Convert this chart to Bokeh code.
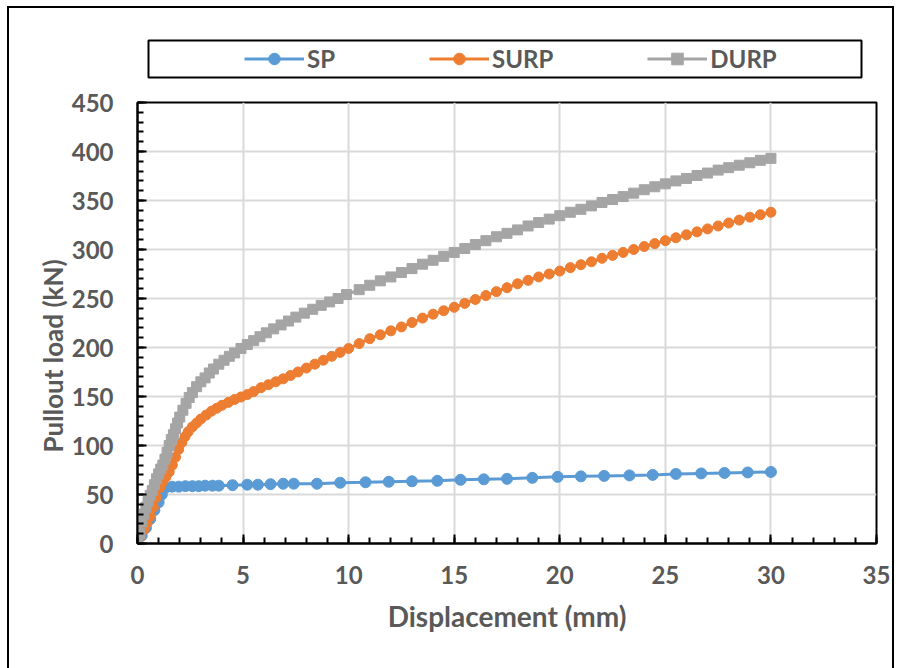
from bokeh.plotting import figure
from bokeh.layouts import column
from bokeh.models import Range1d, FixedTicker, Legend, LegendItem, Title
from bokeh.embed import file_html
from bokeh.resources import INLINE

# ---------------- data ----------------
sp_x = [0, 0.2, 0.4, 0.6, 0.8, 1.0, 1.15, 1.33, 1.64, 1.95, 2.27, 2.6, 2.9, 3.2,
        3.55, 3.85, 4.5, 5.2, 5.7, 6.3, 6.9, 7.4, 8.5, 9.6, 10.8, 11.9, 13.0,
        14.2, 15.3, 16.4, 17.5, 18.7, 19.9, 21.0, 22.1, 23.3, 24.4, 25.5, 26.7,
        27.8, 28.9, 30.0]
sp_y = [0, 8, 16, 25, 34, 42, 50, 57, 58, 58, 58.5, 58.5, 58.5, 59,
        59, 59, 59.5, 60, 60, 60.5, 61, 61, 61, 62, 62.5, 63, 63.5,
        64, 65, 65.5, 66, 67, 68, 68.5, 69, 69.5, 70, 71, 71.5,
        72, 72.5, 73]

surp_x = [0, 0.15, 0.3, 0.45, 0.6, 0.75, 0.9, 1.05, 1.2, 1.35, 1.5, 1.65, 1.8,
          1.95, 2.1, 2.25, 2.4, 2.6, 2.8, 3.0, 3.25, 3.5, 3.75, 4.0, 4.3, 4.6,
          4.9, 5.2, 5.5, 5.85, 6.2, 6.55, 6.9, 7.25, 7.6, 8.0, 8.4, 8.8, 9.2,
          9.6, 10.0, 10.5, 11.0, 11.5, 12.0, 12.5, 13.0, 13.5, 14.0, 14.5, 15.0,
          15.5, 16.0, 16.5, 17.0, 17.5, 18.0, 18.5, 19.0, 19.5, 20.0, 20.5,
          21.0, 21.5, 22.0, 22.5, 23.0, 23.5, 24.0, 24.5, 25.0, 25.5, 26.0,
          26.5, 27.0, 27.5, 28.0, 28.5, 29.0, 29.5, 30.0]
surp_y = [0, 7, 14, 21, 28, 37, 47, 57, 63, 68, 73, 80, 88,
          96, 103, 109, 114, 119, 123, 127, 131, 135, 138, 141, 144, 147,
          149.5, 152, 155, 159, 162, 165, 168, 171.5, 175, 179, 183, 187, 191,
          195, 199, 204, 209, 213, 217, 221, 225.5, 230, 234, 237.5, 241,
          245, 249, 253, 257, 261, 265, 268.5, 272, 275, 278, 281.5,
          284.5, 287.5, 291, 294, 297, 300, 303, 306, 309, 312, 315,
          318, 321, 324, 327, 330, 333, 335.5, 338]

durp_x = [0, 0.1, 0.2, 0.3, 0.4, 0.5, 0.6, 0.7, 0.8, 0.9, 1.0, 1.1, 1.2, 1.3,
          1.4, 1.5, 1.6, 1.7, 1.8, 1.9, 2.0, 2.15, 2.3, 2.45, 2.6, 2.8, 3.0,
          3.2, 3.4, 3.6, 3.85, 4.1, 4.35, 4.6, 4.9, 5.2, 5.5, 5.8, 6.1, 6.45,
          6.8, 7.15, 7.5, 7.9, 8.3, 8.7, 9.1, 9.5, 9.9, 10.5, 11.0, 11.5, 12.0,
          12.5, 13.0, 13.5, 14.0, 14.5, 15.0, 15.5, 16.0, 16.5, 17.0, 17.5,
          18.0, 18.5, 19.0, 19.5, 20.0, 20.5, 21.0, 21.5, 22.0, 22.5, 23.0,
          23.5, 24.0, 24.5, 25.0, 25.5, 26.0, 26.5, 27.0, 27.5, 28.0, 28.5,
          29.0, 29.5, 30.0]
durp_y = [0, 10, 22, 30, 37, 43, 49, 54, 60, 66, 71, 76, 80, 86,
          93, 100, 106, 111, 117, 123, 129, 136, 143, 149, 154, 160, 165,
          169, 174, 178, 183, 187, 191, 194.5, 199, 203, 207, 211, 215, 219,
          223, 227, 231, 235, 239, 243, 246.5, 250, 254, 259, 263.5, 268, 272,
          276.5, 280.5, 285, 289, 293, 297, 301, 305, 309, 313, 316.5,
          320, 324, 327.5, 331, 334.5, 338, 341, 344.5, 348, 351, 354,
          357.5, 361, 364, 367, 370, 372.5, 375.5, 378, 381, 383.5, 386,
          388.5, 391, 393]

x_ticks = [0, 5, 10, 15, 20, 25, 30, 35]
y_ticks = [0, 50, 100, 150, 200, 250, 300, 350, 400, 450]
series_names = ["SP", "SURP", "DURP"]
x_title = "Displacement (mm)"
y_title = "Pullout load  (kN)"

# ---------------- style ----------------
C_SP, C_SURP, C_DURP = "#5B9BD5", "#ED7D31", "#A5A5A5"
TXT = "#595959"
FONT = "Lato"

# chart-area border drawn as CSS background lines behind transparent canvases
bg_lines = [
    ("7px 6px", "2px 720px"),     # outer left
    ("892px 6px", "2px 720px"),   # outer right
    ("7px 6px", "887px 2px"),     # outer top
]
css = {
    "background-color": "white",
    "background-image": ", ".join(["linear-gradient(#000, #000)"] * len(bg_lines)),
    "background-position": ", ".join(b[0] for b in bg_lines),
    "background-size": ", ".join(b[1] for b in bg_lines),
    "background-repeat": "no-repeat",
}

# ---------------- legend strip (its frame is the legend box) ----------------
top = figure(width=901, height=85, output_backend="svg", toolbar_location=None,
             x_range=Range1d(-2, -1), y_range=Range1d(-2, -1),
             x_axis_type=None, y_axis_type=None,
             min_border_left=148, min_border_right=40, min_border_top=40,
             min_border_bottom=8)
top.frame_align = False
top.grid.visible = False
top.background_fill_color = "white"
top.border_fill_alpha = 0
top.outline_line_color = "black"
top.outline_line_width = 2

# off-range copies of the series, used only to draw the legend samples
dl1 = top.line(sp_x, sp_y, line_color=C_SP, line_width=3)
dm1 = top.scatter(sp_x, sp_y, marker="circle", size=11, fill_color=C_SP, line_color=C_SP)
dl2 = top.line(surp_x, surp_y, line_color=C_SURP, line_width=3)
dm2 = top.scatter(surp_x, surp_y, marker="circle", size=10, fill_color=C_SURP, line_color=C_SURP)
dl3 = top.line(durp_x, durp_y, line_color=C_DURP, line_width=3)
dm3 = top.scatter(durp_x, durp_y, marker="square", size=10, fill_color=C_DURP, line_color=C_DURP)

legend = Legend(items=[LegendItem(label=series_names[0], renderers=[dl1, dm1]),
                       LegendItem(label=series_names[1], renderers=[dl2, dm2]),
                       LegendItem(label=series_names[2], renderers=[dl3, dm3])],
                orientation="horizontal", location=(96, 4),
                glyph_width=60, glyph_height=29, label_standoff=3, spacing=94,
                padding=0, margin=0,
                label_text_font=FONT, label_text_font_style="bold",
                label_text_font_size="24px", label_text_color=TXT,
                border_line_alpha=0, background_fill_alpha=0)
top.add_layout(legend, "center")

# ---------------- main chart ----------------
p = figure(width=901, height=583, output_backend="svg", toolbar_location=None,
           x_range=Range1d(0, 35), y_range=Range1d(0, 450),
           min_border_left=137, min_border_right=25, min_border_top=17,
           min_border_bottom=125)
p.frame_align = False
p.background_fill_color = "white"
p.border_fill_alpha = 0
p.outline_line_color = "black"
p.outline_line_width = 2

p.xaxis.ticker = FixedTicker(ticks=x_ticks, minor_ticks=list(range(0, 36)))
p.yaxis.ticker = FixedTicker(ticks=y_ticks, minor_ticks=list(range(0, 451, 10)))
p.xgrid.ticker = FixedTicker(ticks=x_ticks)
p.ygrid.ticker = FixedTicker(ticks=y_ticks)
for g in (p.xgrid, p.ygrid):
    g.grid_line_color = "#D9D9D9"
    g.grid_line_width = 2

for ax in (p.xaxis, p.yaxis):
    ax.axis_line_color = "black"
    ax.axis_line_width = 2
    ax.major_tick_line_color = "black"
    ax.major_tick_line_width = 2
    ax.minor_tick_line_color = "black"
    ax.minor_tick_line_width = 2
    ax.major_tick_in = 9
    ax.major_tick_out = 0
    ax.minor_tick_in = 6
    ax.minor_tick_out = 0
    ax.major_label_text_font = FONT
    ax.major_label_text_font_style = "bold"
    ax.major_label_text_font_size = "24px"
    ax.major_label_text_color = TXT

p.xaxis.axis_label = x_title
p.xaxis.axis_label_text_font = FONT
p.xaxis.axis_label_text_font_style = "bold"
p.xaxis.axis_label_text_color = TXT
p.xaxis.axis_label_text_font_size = "28px"
p.xaxis.major_label_standoff = 22
p.yaxis.major_label_standoff = 24
p.xaxis.axis_label_standoff = 12

# y-axis title as a side title, shifted along the axis like the original
ytitle = Title(text=y_title, align="left", offset=91, standoff=0,
               text_font=FONT, text_font_style="bold", text_font_size="26px",
               text_color=TXT)
p.add_layout(ytitle, "left")

p.line(sp_x, sp_y, line_color=C_SP, line_width=3)
p.scatter(sp_x, sp_y, marker="circle", size=11, fill_color=C_SP, line_color=C_SP)
p.line(surp_x, surp_y, line_color=C_SURP, line_width=3)
p.scatter(surp_x, surp_y, marker="circle", size=10, fill_color=C_SURP, line_color=C_SURP)
p.line(durp_x, durp_y, line_color=C_DURP, line_width=3)
p.scatter(durp_x, durp_y, marker="square", size=10, fill_color=C_DURP, line_color=C_DURP)

layout = column(top, p, spacing=0, styles=css)

open("out.html", "w").write(file_html(layout, INLINE))
